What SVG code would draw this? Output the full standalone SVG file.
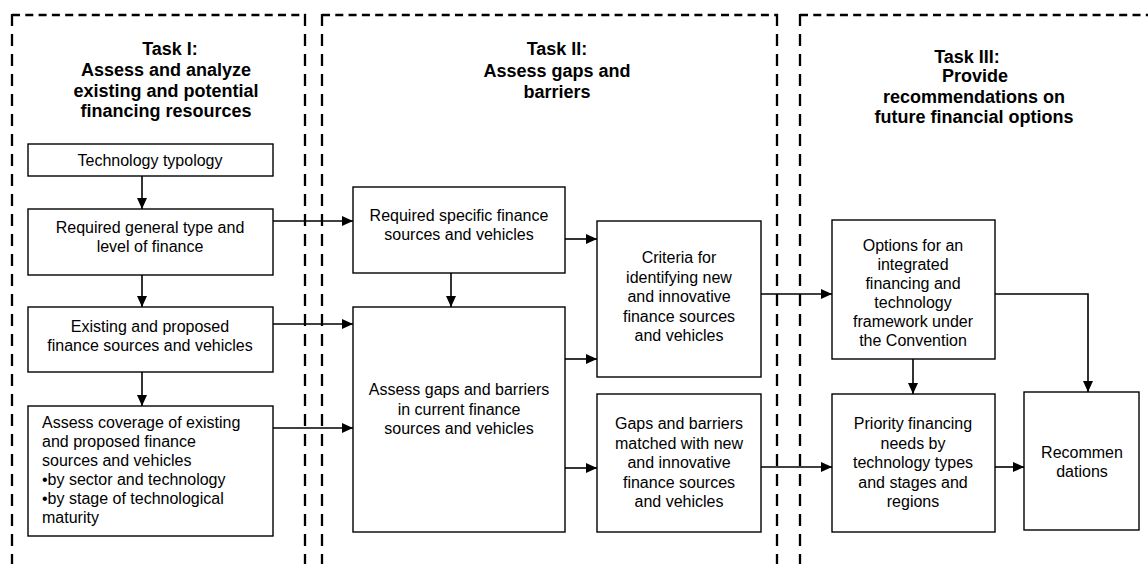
<svg xmlns="http://www.w3.org/2000/svg" width="1148" height="564" viewBox="0 0 1148 564">
<style>
.bg{fill:#ffffff}
.ph{fill:none;stroke:#000;stroke-width:2.7;stroke-dasharray:8 5.3}
.pv{fill:none;stroke:#000;stroke-width:2.3;stroke-dasharray:12 8}
.box{fill:#ffffff;stroke:#000;stroke-width:1.4}
.t{font-family:"Liberation Sans",Arial,sans-serif;font-size:16px;fill:#000;text-anchor:middle}
.tl{font-family:"Liberation Sans",Arial,sans-serif;font-size:16px;fill:#000}
.h{font-family:"Liberation Sans",Arial,sans-serif;font-size:18px;font-weight:bold;fill:#000;text-anchor:middle}
.c{fill:none;stroke:#000;stroke-width:1.6;marker-end:url(#arr)}
</style>
<defs>
<marker id="arr" markerUnits="userSpaceOnUse" markerWidth="11" markerHeight="10" refX="11" refY="5" orient="auto">
<path d="M0,0 L11,5 L0,10 z" fill="#000"/>
</marker>
</defs>
<rect class="bg" x="0" y="0" width="1148" height="564"/>
<g id="panels">
<path class="ph" d="M12,15 H306"/>
<path class="pv" d="M12,14 V564"/>
<path class="pv" d="M305,14 V564"/>
<path class="ph" d="M322,15 H778"/>
<path class="pv" d="M322,14 V564"/>
<path class="pv" d="M777,14 V564"/>
<path class="ph" d="M800,15 H1150"/>
<path class="pv" d="M800,14 V564"/>
</g>
<g id="titles">
<g id="task1">
<text class="h" x="170" y="55">Task I:</text>
<text class="h" x="166" y="76">Assess and analyze</text>
<text class="h" x="166" y="97">existing and potential</text>
<text class="h" x="166" y="117">financing resources</text>
</g>
<g id="task2">
<text class="h" x="557" y="55">Task II:</text>
<text class="h" x="557" y="77">Assess gaps and</text>
<text class="h" x="557" y="98">barriers</text>
</g>
<g id="task3">
<text class="h" x="967" y="63">Task III:</text>
<text class="h" x="975" y="82">Provide</text>
<text class="h" x="974" y="103">recommendations on</text>
<text class="h" x="974" y="123">future financial options</text>
</g>
</g>
<g id="connectors">
<path class="c" d="M142,176 V209"/>
<path class="c" d="M142,275 V307"/>
<path class="c" d="M142,372 V406"/>
<path class="c" d="M273,221 H353"/>
<path class="c" d="M273,324 H353"/>
<path class="c" d="M273,428 H353"/>
<path class="c" d="M451,273 V307"/>
<path class="c" d="M565,239 H597"/>
<path class="c" d="M565,359 H597"/>
<path class="c" d="M565,468 H597"/>
<path class="c" d="M761,294 H832"/>
<path class="c" d="M761,467 H832"/>
<path class="c" d="M995,294 H1088 V392"/>
<path class="c" d="M913,359 V394"/>
<path class="c" d="M995,467 H1024"/>
</g>
<g id="n1">
<rect class="box" x="28" y="144" width="245" height="32"/>
<text class="t" x="150" y="166">Technology typology</text>
</g>
<g id="n2">
<rect class="box" x="28" y="209" width="245" height="66"/>
<text class="t" x="150" y="233">Required general type and</text>
<text class="t" x="150" y="252">level of finance</text>
</g>
<g id="n3">
<rect class="box" x="28" y="307" width="245" height="65"/>
<text class="t" x="150" y="332">Existing and proposed</text>
<text class="t" x="150" y="351">finance sources and vehicles</text>
</g>
<g id="n4">
<rect class="box" x="28" y="406" width="245" height="130"/>
<text class="tl" x="42" y="428">Assess coverage of existing</text>
<text class="tl" x="42" y="447">and proposed finance</text>
<text class="tl" x="42" y="466">sources and vehicles</text>
<text class="tl" x="42" y="485">•by sector and technology</text>
<text class="tl" x="42" y="504">•by stage of technological</text>
<text class="tl" x="42" y="523">maturity</text>
</g>
<g id="n5">
<rect class="box" x="353" y="187" width="212" height="86"/>
<text class="t" x="459" y="221">Required specific finance</text>
<text class="t" x="459" y="240">sources and vehicles</text>
</g>
<g id="n6">
<rect class="box" x="353" y="307" width="212" height="225"/>
<text class="t" x="459" y="395">Assess gaps and barriers</text>
<text class="t" x="459" y="415">in current finance</text>
<text class="t" x="459" y="434">sources and vehicles</text>
</g>
<g id="n7">
<rect class="box" x="597" y="221" width="164" height="156"/>
<text class="t" x="679" y="263">Criteria for</text>
<text class="t" x="679" y="283">identifying new</text>
<text class="t" x="679" y="302">and innovative</text>
<text class="t" x="679" y="322">finance sources</text>
<text class="t" x="679" y="341">and vehicles</text>
</g>
<g id="n8">
<rect class="box" x="597" y="394" width="164" height="138"/>
<text class="t" x="679" y="429">Gaps and barriers</text>
<text class="t" x="679" y="449">matched with new</text>
<text class="t" x="679" y="468">and innovative</text>
<text class="t" x="679" y="488">finance sources</text>
<text class="t" x="679" y="507">and vehicles</text>
</g>
<g id="n9">
<rect class="box" x="832" y="220" width="163" height="139"/>
<text class="t" x="913" y="251">Options for an</text>
<text class="t" x="913" y="270">integrated</text>
<text class="t" x="913" y="289">financing and</text>
<text class="t" x="913" y="308">technology</text>
<text class="t" x="913" y="327">framework under</text>
<text class="t" x="913" y="346">the Convention</text>
</g>
<g id="n10">
<rect class="box" x="832" y="394" width="163" height="138"/>
<text class="t" x="913" y="429">Priority financing</text>
<text class="t" x="913" y="449">needs by</text>
<text class="t" x="913" y="468">technology types</text>
<text class="t" x="913" y="488">and stages and</text>
<text class="t" x="913" y="507">regions</text>
</g>
<g id="n11">
<rect class="box" x="1024" y="392" width="115" height="138"/>
<text class="t" x="1082" y="458">Recommen</text>
<text class="t" x="1082" y="477">dations</text>
</g>
</svg>
